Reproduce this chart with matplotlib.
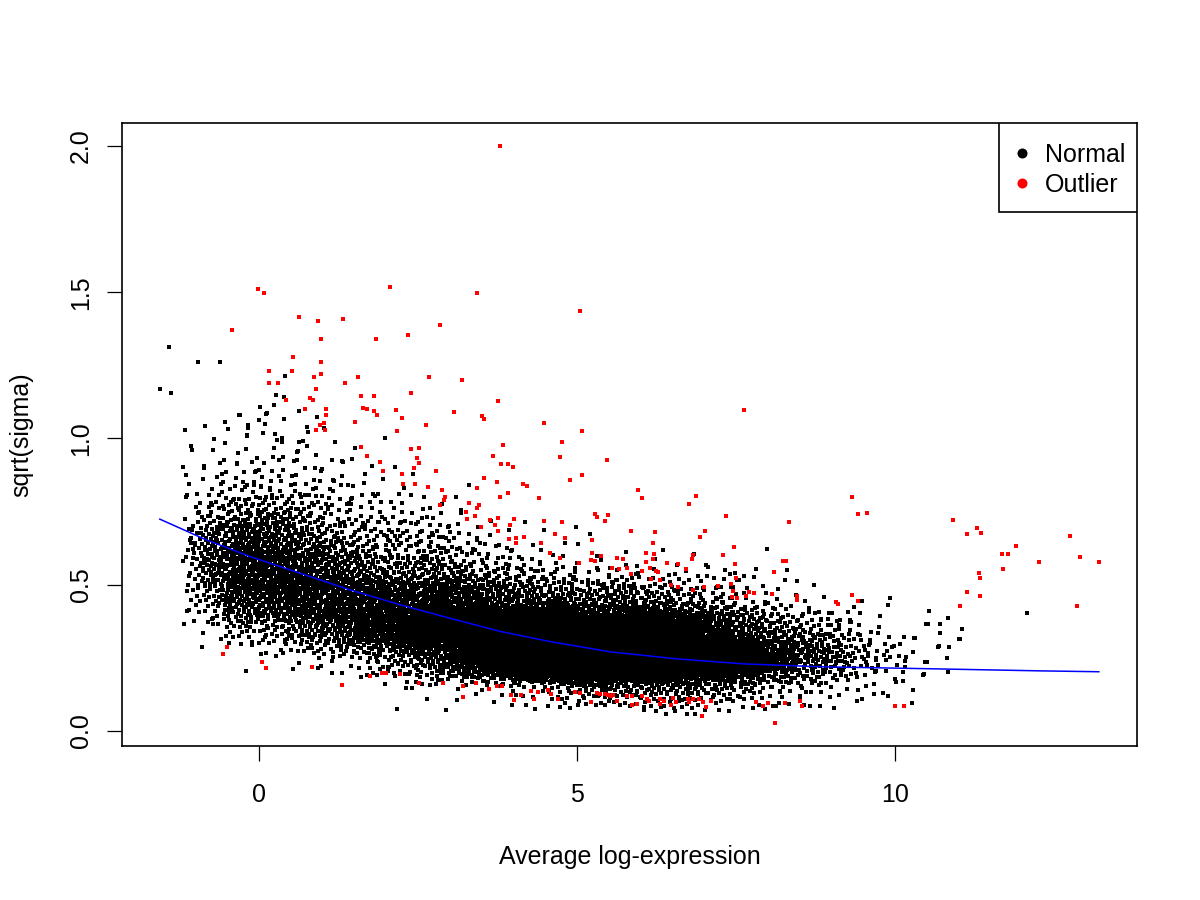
import numpy as np
import matplotlib
matplotlib.use("Agg")
import matplotlib.pyplot as plt

plt.rcParams['font.family'] = ['Liberation Sans', 'DejaVu Sans']

# black cloud read off the picture as counts per cell:
# columns are x bins of width 0.5 (left edge below), rows are y bins of 0.1 from 0.0 up to 1.3
bin_x_left = [-1.0, -0.5, 0.0, 0.5, 1.0, 1.5, 2.0, 2.5, 3.0, 3.5, 4.0, 4.5,
              5.0, 5.5, 6.0, 6.5, 7.0, 7.5, 8.0, 8.5, 9.0, 9.5, 10.0, 10.5]
bin_counts = [
    [0, 0, 0, 6, 38, 68, 68, 25, 10, 5, 3, 0, 0],
    [0, 0, 1, 30, 92, 122, 106, 40, 16, 8, 6, 1, 0],
    [0, 0, 2, 38, 106, 122, 92, 42, 16, 9, 7, 3, 0],
    [0, 0, 6, 68, 122, 106, 57, 30, 13, 6, 4, 1, 0],
    [0, 0, 12, 92, 122, 80, 38, 20, 10, 4, 1, 0, 0],
    [0, 1, 26, 140, 122, 57, 30, 17, 6, 2, 0, 0, 0],
    [0, 3, 50, 185, 122, 47, 26, 14, 4, 0, 0, 0, 0],
    [0, 4, 85, 252, 122, 57, 22, 11, 0, 0, 0, 0, 0],
    [0, 6, 150, 306, 122, 38, 14, 3, 0, 0, 0, 0, 0],
    [0, 9, 214, 306, 92, 30, 7, 0, 0, 0, 0, 0, 0],
    [0, 15, 306, 306, 80, 17, 4, 0, 0, 0, 0, 0, 0],
    [0, 32, 398, 252, 68, 14, 3, 0, 0, 0, 0, 0, 0],
    [0, 45, 398, 214, 57, 11, 1, 0, 0, 0, 0, 0, 0],
    [0, 55, 466, 252, 68, 11, 0, 0, 0, 0, 0, 0, 0],
    [0, 62, 466, 214, 47, 7, 0, 0, 0, 0, 0, 0, 0],
    [0, 62, 398, 160, 38, 5, 0, 0, 0, 0, 0, 0, 0],
    [0, 48, 306, 122, 30, 4, 0, 0, 0, 0, 0, 0, 0],
    [0, 34, 214, 80, 17, 3, 0, 0, 0, 0, 0, 0, 0],
    [0, 22, 122, 47, 8, 1, 0, 0, 0, 0, 0, 0, 0],
    [0, 16, 80, 30, 5, 0, 0, 0, 0, 0, 0, 0, 0],
    [0, 11, 47, 17, 2, 0, 0, 0, 0, 0, 0, 0, 0],
    [0, 5, 22, 8, 1, 0, 0, 0, 0, 0, 0, 0, 0],
    [0, 5, 9, 3, 0, 0, 0, 0, 0, 0, 0, 0, 0],
    [0, 0, 4, 9, 0, 0, 0, 0, 0, 0, 0, 0, 0],
]

# isolated black points
sparse_x = [-1.56, -1.41, -1.38, -0.96, -0.61, -1.16, -1.15, -1.15, -1.10, -1.07, 12.07, 10.83]
sparse_y = [1.17, 1.313, 1.155, 1.26, 1.26, 1.03, 0.876, 0.80, 0.69, 0.642, 0.403, 0.20]

# red outliers
out_x = [3.79, -0.01, 0.08, 2.06, 3.43, 5.05, 0.63, 0.93, 1.32, -0.42, 2.85, 2.34, 1.84, 0.97,
         0.53, 0.97, 0.16, 0.52, 0.97, 0.16, 0.30, 0.86, 0.90, 1.35, 1.56, 2.67, 3.19,
         0.42, 0.80, 0.85, 1.60, 1.81, 2.39, 3.76,
         0.72, 1.05, 1.05, 1.64, 1.70, 1.81, 1.85, 2.15, 2.25, 3.07, 3.51, 3.54, 7.63,
         1.02, 0.96, 0.90, 1.04, 1.51, 2.17, 2.63, 4.48, 5.08,
         1.60, 1.70, 2.39, 2.52, 2.48, 2.52, 4.76, 3.84, 3.68, 4.73, 5.47, 3.80, 3.91, 3.99,
         1.90, 1.95, 2.25, 2.44, 2.78, 3.54, 5.08, 3.74, 4.89,
         2.26, 2.45, 2.66, 2.88, 4.15, 4.21, 3.43, 3.91, 3.79, 4.40,
         2.92, 2.91, 2.85, 3.30, 3.46, 3.43, 3.25, 3.40, 3.76, 4.01, 3.27, 5.28, 5.31, 5.49,
         5.44, 3.63, 3.49, 3.71, 3.95, 4.48, 4.76,
         3.76, 4.65, 4.81, 4.04, 3.93, 4.04, 4.17, 4.43, 5.24, 4.58, 5.24, 5.22, 5.28, 5.38,
         5.03, 4.73, 5.55, 5.63, 5.66,
         5.96, 6.02, 6.87, 6.76, 7.34, 8.33, 5.85, 6.23, 7.01, 6.93, 6.19, 6.08, 6.21, 6.82,
         6.81, 6.19, 5.72, 6.08, 7.30, 7.47, 7.48, 8.24, 8.29, 5.79, 5.85, 6.02, 6.15, 6.24,
         6.27, 6.41, 6.59, 6.71, 6.16, 6.31, 6.48, 6.59, 6.82, 7.00, 7.22, 7.42, 7.50, 7.45,
         7.44, 7.52, 7.66, 7.70, 7.78, 8.07, 8.10, 8.46, 8.46,
         9.32, 9.42, 9.56, 10.90, 11.29, 11.13, 11.35, 11.90, 11.68, 11.78, 12.26, 11.70,
         11.32, 11.34, 11.13, 11.34, 11.02, 9.32, 9.07, 9.10, 9.42, 12.74, 12.91, 13.21, 12.86,
         -0.50, -0.57, 0.05, 0.11, 0.83, 1.31, 1.75, 1.93, 2.00, 2.22, 2.52, 2.89,
         3.21, 3.21, 3.41, 3.62, 3.74, 3.82, 3.96, 4.01, 4.12, 4.28, 4.32, 4.39, 4.54, 4.59,
         4.70, 4.97, 5.05, 5.21, 5.31, 5.36, 5.44, 5.49, 5.53, 5.57, 5.63,
         5.79, 5.86, 5.86, 5.94, 6.02, 6.10, 6.13, 6.31, 6.31, 6.37, 6.48, 6.51, 6.56, 6.75,
         6.76, 6.82, 6.92, 6.98, 7.03, 6.97, 7.11, 7.81, 7.92, 8.00, 8.11, 8.27, 8.51, 8.54,
         10.00, 10.13]
out_y = [2.0, 1.511, 1.497, 1.518, 1.497, 1.436, 1.415, 1.402, 1.408, 1.371, 1.388, 1.354, 1.34, 1.34,
         1.28, 1.26, 1.23, 1.23, 1.22, 1.19, 1.19, 1.21, 1.17, 1.19, 1.21, 1.21, 1.20,
         1.13, 1.14, 1.13, 1.145, 1.145, 1.155, 1.128,
         1.10, 1.10, 1.08, 1.104, 1.10, 1.094, 1.08, 1.097, 1.07, 1.09, 1.077, 1.067, 1.097,
         1.053, 1.046, 1.03, 1.03, 1.056, 1.026, 1.046, 1.053, 1.026,
         0.97, 0.94, 0.964, 0.968, 0.933, 0.916, 0.988, 0.978, 0.94, 0.937, 0.926, 0.913, 0.913, 0.903,
         0.92, 0.89, 0.88, 0.90, 0.89, 0.865, 0.875, 0.85, 0.858,
         0.845, 0.845, 0.835, 0.824, 0.845, 0.838, 0.83, 0.813, 0.80, 0.796,
         0.80, 0.79, 0.773, 0.78, 0.773, 0.762, 0.749, 0.735, 0.728, 0.725, 0.725, 0.742, 0.732, 0.738,
         0.718, 0.721, 0.697, 0.704, 0.704, 0.718, 0.714,
         0.684, 0.673, 0.660, 0.660, 0.656, 0.643, 0.663, 0.643, 0.653, 0.609, 0.609, 0.585, 0.581, 0.598,
         0.574, 0.591, 0.557, 0.591, 0.554,
         0.824, 0.797, 0.803, 0.776, 0.735, 0.714, 0.684, 0.680, 0.684, 0.663, 0.643, 0.609, 0.605, 0.602,
         0.588, 0.588, 0.588, 0.578, 0.602, 0.629, 0.571, 0.581, 0.581, 0.557, 0.537, 0.547, 0.557, 0.547,
         0.544, 0.574, 0.571, 0.554, 0.520, 0.516, 0.499, 0.492, 0.482, 0.492, 0.496, 0.503, 0.523, 0.479,
         0.458, 0.455, 0.462, 0.475, 0.472, 0.468, 0.544, 0.462, 0.448,
         0.80, 0.742, 0.745, 0.721, 0.694, 0.673, 0.677, 0.632, 0.605, 0.605, 0.578, 0.554,
         0.540, 0.523, 0.475, 0.462, 0.427, 0.465, 0.441, 0.434, 0.444, 0.667, 0.595, 0.578, 0.427,
         0.287, 0.263, 0.235, 0.215, 0.219, 0.157, 0.188, 0.198, 0.198, 0.195, 0.164, 0.164,
         0.154, 0.116, 0.164, 0.144, 0.154, 0.154, 0.123, 0.106, 0.123, 0.137, 0.109, 0.133, 0.140, 0.126,
         0.109, 0.133, 0.130, 0.099, 0.130, 0.126, 0.126, 0.123, 0.120, 0.123, 0.103,
         0.120, 0.120, 0.089, 0.092, 0.120, 0.109, 0.103, 0.109, 0.092, 0.103, 0.089, 0.113, 0.099, 0.109,
         0.099, 0.109, 0.109, 0.099, 0.082, 0.051, 0.103, 0.099, 0.085, 0.096, 0.027, 0.096, 0.103, 0.085,
         0.085, 0.085]

# trend line, read at points along the curve
trend_x = [-1.56, -0.85, -0.14, 0.645, 1.43, 2.22, 3.0, 3.79, 4.58, 5.52, 6.57, 7.61, 8.82, 10.6, 12.28, 13.2]
trend_y = [0.724, 0.655, 0.596, 0.539, 0.482, 0.431, 0.385, 0.340, 0.305, 0.270, 0.246, 0.229, 0.219, 0.212, 0.205, 0.202]

BIN_W = 0.5
BIN_H = 0.1


def tri(u):
    # map 0..1 onto -1..1 with a triangular profile so neighbouring cells blend
    return np.where(u < 0.5, np.sqrt(2 * u) - 1, 1 - np.sqrt(2 * (1 - u)))


# spread each cell's count over the cell (R2 low discrepancy sequence)
g = 1.32471795724474602596
cx, cy, ux, uy = [], [], [], []
k = 0
for x0, col in zip(bin_x_left, bin_counts):
    for j, n in enumerate(col):
        for _ in range(n):
            k += 1
            cx.append(x0 + BIN_W / 2)
            cy.append(j * BIN_H + BIN_H / 2)
            ux.append((0.5 + k / g) % 1.0)
            uy.append((0.5 + k / (g * g)) % 1.0)
cloud_x = np.array(cx) + BIN_W * tri(np.array(ux))
cloud_y = np.array(cy) + BIN_H * tri(np.array(uy))
cloud_x = np.concatenate([cloud_x, sparse_x])
cloud_y = np.concatenate([cloud_y, sparse_y])

fig = plt.figure(figsize=(12, 9), dpi=100)
ax = fig.add_axes([122 / 1200, 154 / 900, 1015 / 1200, 623 / 900])

ax.scatter(cloud_x, cloud_y, s=4.7, marker='s', c='black', linewidths=0, antialiased=False)
ax.scatter(out_x, out_y, s=4.7, marker='s', c='#ff0000', linewidths=0, antialiased=False)
ax.plot(trend_x, trend_y, color='#0000ff', lw=1.1)

ax.set_xlim(-2.154, 13.80)
ax.set_ylim(-0.052, 2.079)
ax.set_xticks([0, 5, 10])
ax.set_xticklabels(['0', '5', '10'])
ax.set_yticks([0.0, 0.5, 1.0, 1.5, 2.0])
ax.set_yticklabels(['0.0', '0.5', '1.0', '1.5', '2.0'], rotation=90, va='center')
ax.tick_params(direction='out', length=10.8, width=0.9, labelsize=18)
ax.tick_params(axis='x', pad=16)
ax.tick_params(axis='y', pad=10)
for sp in ax.spines.values():
    sp.set_linewidth(1.2)

ax.set_xlabel('Average log-expression', fontsize=18)
ax.set_ylabel('sqrt(sigma)', fontsize=18)
ax.xaxis.set_label_coords(0.5, -0.159)
ax.yaxis.set_label_coords(-0.087, 0.5)

# legend box in the top right corner
ax.add_patch(plt.Rectangle((0.864, 0.857), 0.136, 0.143, transform=ax.transAxes,
                           facecolor='white', edgecolor='black', lw=1.2, zorder=5))
ax.scatter([0.8867], [0.9518], s=52, c='black', transform=ax.transAxes, zorder=6, linewidths=0)
ax.scatter([0.8867], [0.9037], s=52, c='#ff0000', transform=ax.transAxes, zorder=6, linewidths=0)
ax.text(0.9094, 0.9379, 'Normal', transform=ax.transAxes, fontsize=18, va='baseline', zorder=6)
ax.text(0.9094, 0.8897, 'Outlier', transform=ax.transAxes, fontsize=18, va='baseline', zorder=6)

fig.savefig('out.png', dpi=100)
